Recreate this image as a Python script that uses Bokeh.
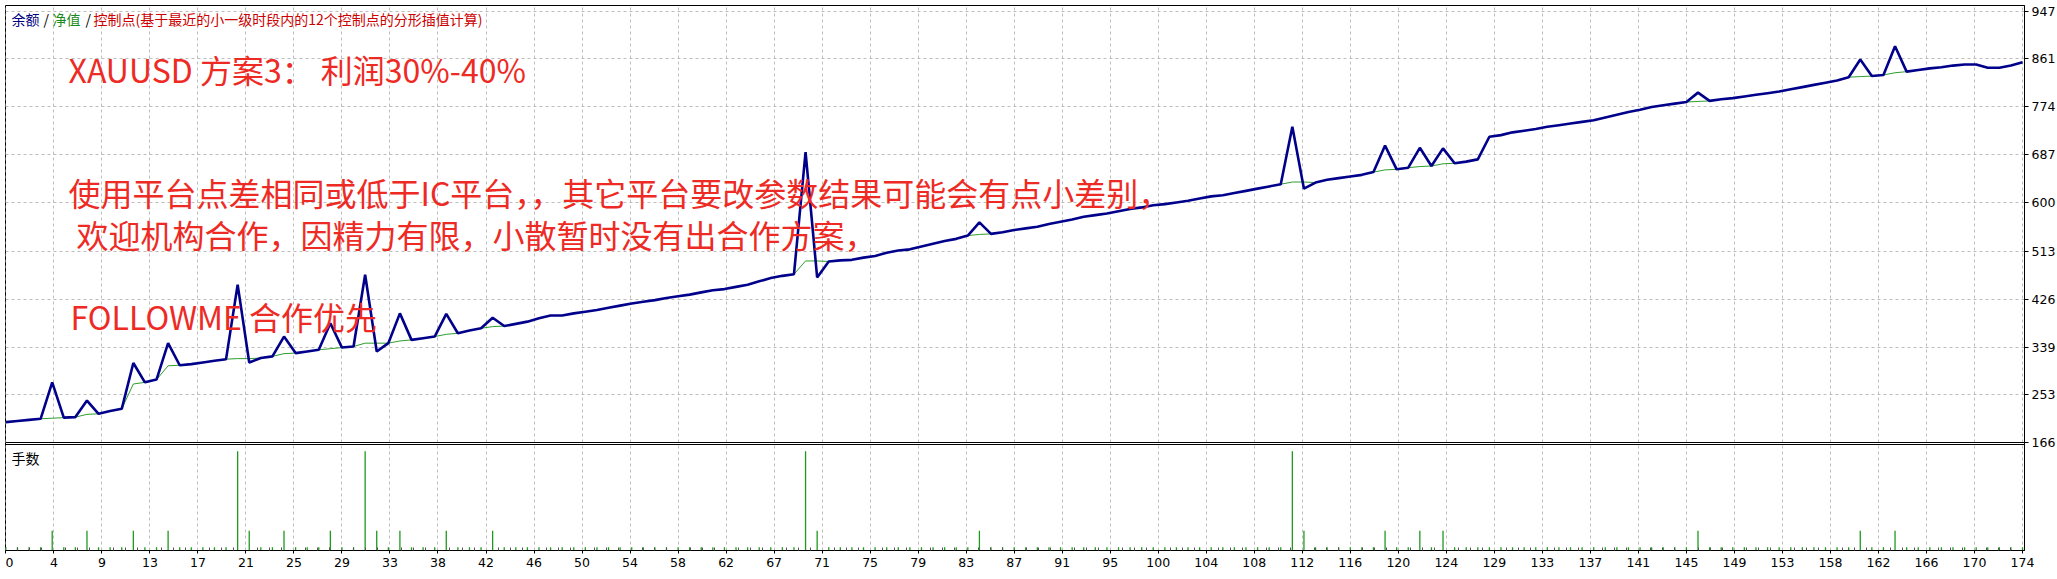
from bokeh.plotting import figure
from bokeh.models import FixedTicker, Label, Range1d, Span
from bokeh.embed import file_html
from bokeh.resources import INLINE

# ---------------- data ----------------
trade_index = list(range(175))

balance = [
    203, 205, 207, 209, 275, 211, 212, 242, 218, 223,
    227, 310, 275, 280, 346, 306, 308, 311, 314, 317,
    452, 311, 319, 322, 358, 328, 331, 334, 382, 338,
    340, 470, 331, 346, 400, 352, 355, 358, 399, 364,
    369, 373, 392, 377, 381, 385, 391, 396, 396, 400,
    403, 406, 410, 414, 418, 421, 424, 428, 431, 434,
    438, 442, 444, 448, 452, 458, 464, 468, 471, 692,
    465, 494, 496, 497, 501, 504, 510, 514, 516, 521,
    526, 531, 535, 541, 565, 544, 547, 551, 554, 557,
    562, 566, 570, 575, 578, 581, 585, 589, 592, 596,
    598, 601, 604, 608, 612, 614, 618, 622, 626, 630,
    634, 738, 626, 637, 642, 645, 648, 651, 656, 704,
    661, 664, 700, 667, 699, 672, 675, 679, 720, 723,
    728, 731, 734, 738, 741, 744, 747, 750, 755, 760,
    765, 769, 774, 777, 780, 783, 800, 785, 788, 790,
    793, 796, 799, 802, 806, 810, 814, 818, 822, 828,
    860, 830, 832, 884, 838, 841, 844, 846, 849, 851,
    851, 845, 845, 849, 855,
]

equity = [
    203, 205, 207, 209, 210, 211, 212, 217, 218, 223,
    227, 272, 275, 280, 305, 306, 308, 311, 314, 317,
    318, 318, 319, 322, 327, 328, 331, 334, 336, 338,
    340, 346, 346, 346, 350, 352, 355, 358, 362, 364,
    369, 373, 376, 377, 381, 385, 391, 396, 396, 400,
    403, 406, 410, 414, 418, 421, 424, 428, 431, 434,
    438, 442, 444, 448, 452, 458, 464, 468, 471, 495,
    495, 494, 496, 497, 501, 504, 510, 514, 516, 521,
    526, 531, 535, 541, 543, 544, 547, 551, 554, 557,
    562, 566, 570, 575, 578, 581, 585, 589, 592, 596,
    598, 601, 604, 608, 612, 614, 618, 622, 626, 630,
    634, 638, 638, 637, 642, 645, 648, 651, 656, 660,
    661, 664, 666, 667, 671, 672, 675, 679, 720, 723,
    728, 731, 734, 738, 741, 744, 747, 750, 755, 760,
    765, 769, 774, 777, 780, 783, 784, 785, 788, 790,
    793, 796, 799, 802, 806, 810, 814, 818, 822, 828,
    829, 830, 832, 836, 838, 841, 844, 846, 849, 851,
    851, 845, 845, 849, 855,
]

lots = [0.01] * 175
for i in [4, 7, 11, 14, 21, 24, 28, 32, 34, 38, 42, 70, 84, 112,
          119, 122, 124, 146, 160, 163]:
    lots[i] = 0.06
for i in [20, 31, 69, 111]:
    lots[i] = 0.30

y_tick_labels = [166, 253, 339, 426, 513, 600, 687, 774, 861, 947]
x_tick_labels = [0, 4, 9, 13, 17, 21, 25, 29, 33, 38, 42, 46, 50, 54, 58,
                 62, 67, 71, 75, 79, 83, 87, 91, 95, 100, 104, 108, 112,
                 116, 120, 124, 129, 133, 137, 141, 145, 149, 153, 158,
                 162, 166, 170, 174]

legend_parts = [
    ("余额", "#000080"),
    ("/", "#000000"),
    ("净值", "#1A8A1A"),
    ("/", "#000000"),
    ("控制点(基于最近的小一级时段内的12个控制点的分形插值计算)", "#CC0000"),
]
notes = [
    "XAUUSD 方案3：  利润30%-40%",
    "使用平台点差相同或低于IC平台，，其它平台要改参数结果可能会有点小差别，",
    " 欢迎机构合作，因精力有限，小散暂时没有出合作方案，",
    "FOLLOWME 合作优先",
]
sub_title = "手数"

# ---------------- layout constants ----------------
FRAME_W, FRAME_H = 2019, 545
X0, X1 = -0.03, 174.17
PER_PX = 781 / 431.0
Y1 = 166 + (442 - 5) * PER_PX
Y0 = 166 - (550 - 442) * PER_PX
LOT_TOP = 0.30 / 99.3 * FRAME_H


def sx(px):
    return X0 + (px - 5) / FRAME_W * (X1 - X0)


def sy(py):
    return Y1 - (py - 5) / FRAME_H * (Y1 - Y0)


p = figure(frame_width=FRAME_W, frame_height=FRAME_H,
           x_range=Range1d(X0, X1), y_range=Range1d(Y0, Y1),
           output_backend="svg", toolbar_location=None,
           y_axis_location="right",
           min_border_left=0, min_border_top=0, min_border_right=0,
           min_border_bottom=0, margin=(5, 0, 0, 5))
p.extra_y_ranges = {"lots": Range1d(0, LOT_TOP)}
p.background_fill_color = "white"
p.border_fill_color = "white"
p.outline_line_color = "black"
p.outline_line_width = 1
p.outline_line_alpha = 1

AXIS_FONT = "DejaVu Sans"
NOTE_FONT = "Noto Sans CJK SC"

# x axis
step = x_tick_labels[-1] / (len(x_tick_labels) - 1)
tick_pos = [k * step for k in range(len(x_tick_labels))]
minor_pos = [(k + j / 4) * step for k in range(len(x_tick_labels) - 1) for j in (1, 2, 3)]
xticker = FixedTicker(ticks=tick_pos, minor_ticks=minor_pos)
xa = p.xaxis[0]
xa.ticker = xticker
xa.major_label_overrides = {t: str(l) for t, l in zip(tick_pos, x_tick_labels)}
xa.major_label_text_font = AXIS_FONT
xa.major_label_text_font_size = "12.5px"
xa.major_label_text_color = "black"
xa.major_label_text_align = "right"
xa.major_label_standoff = 4
xa.major_tick_in = 0
xa.major_tick_out = 3
xa.minor_tick_in = 3
xa.minor_tick_out = 0
xa.axis_line_color = "black"
xa.major_tick_line_color = "black"
xa.minor_tick_line_color = "#555555"

# y axis (right)
ya = p.yaxis[0]
ya.ticker = FixedTicker(ticks=y_tick_labels)
ya.major_label_text_font = AXIS_FONT
ya.major_label_text_font_size = "12.5px"
ya.major_label_text_color = "black"
ya.major_label_standoff = 3
ya.major_tick_in = 0
ya.major_tick_out = 4
ya.minor_tick_line_color = None
ya.axis_line_color = "black"

# grids
p.xgrid.ticker = xticker
p.xgrid.grid_line_color = "#BDBDBD"
p.xgrid.grid_line_dash = "3 3"
p.ygrid.ticker = FixedTicker(ticks=y_tick_labels)
p.ygrid.grid_line_color = "#BDBDBD"
p.ygrid.grid_line_dash = "3 3"

# divider between the two panes
p.add_layout(Span(location=sy(442), dimension="width", line_color="black", line_width=1))
p.add_layout(Span(location=sy(444), dimension="width", line_color="black", line_width=1))

# volume pane
p.segment(x0=trade_index, y0=[0] * len(lots), x1=trade_index, y1=lots,
          y_range_name="lots", line_color="#1E9A1E", line_width=1.3)

# equity and balance
p.line(trade_index, equity, line_color="#2E9E2E", line_width=1)
p.line(trade_index, balance, line_color="#00008B", line_width=2.6)

# legend line (top-left)
leg_x = [11, 43, 52, 85, 93]
for (txt, col), px in zip(legend_parts, leg_x):
    p.add_layout(Label(x=sx(px), y=sy(18), text=txt, text_color=col,
                       text_font="Noto Sans CJK SC", text_font_size="14px",
                       text_baseline="middle", text_align="left"))

p.add_layout(Label(x=sx(11), y=sy(457), text=sub_title, text_color="black",
                   text_font="Noto Sans CJK SC", text_font_size="14px",
                   text_baseline="middle", text_align="left"))

note_pos = [(68, 68), (68, 191), (76, 233), (70, 315)]
for txt, (px, py) in zip(notes, note_pos):
    p.add_layout(Label(x=sx(px), y=sy(py), text=txt, text_color="#EE2A24",
                       text_font=NOTE_FONT, text_font_size="32px",
                       text_baseline="middle", text_align="left"))

open("out.html", "w").write(file_html(p, INLINE))
